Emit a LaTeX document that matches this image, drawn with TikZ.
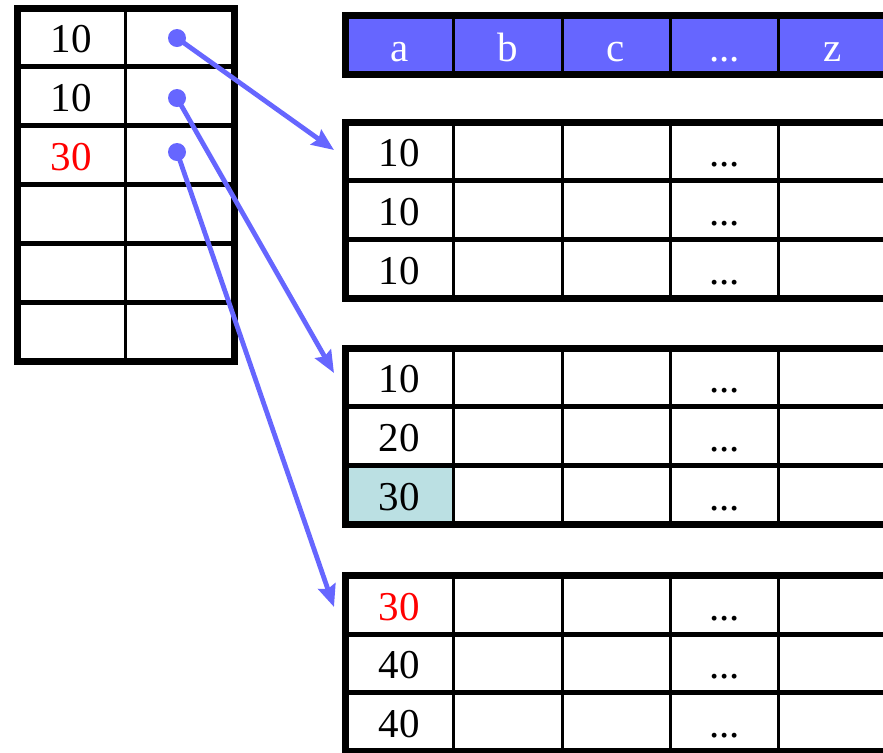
\documentclass[tikz,border=0pt]{standalone}
\usepackage{fontspec}
\setmainfont{Liberation Serif}
\usetikzlibrary{arrows.meta}
\definecolor{ptrblue}{HTML}{6666FF}
\definecolor{hitcell}{HTML}{BBE0E3}
\tikzset{
	txt/.style={anchor=base, inner sep=0pt, font=\fontsize{20.5}{24}\selectfont},
	hdtxt/.style={txt, text=white},
	dot/.style={circle, fill=ptrblue, inner sep=0pt, minimum size=9pt},
	ptr/.style={draw=ptrblue, line width=2.4pt, -{Stealth[length=11pt,width=9pt,inset=1.5pt]}},
	frame/.style={line width=3.5pt},
	hline/.style={line width=2.5pt},
	vline/.style={line width=1.5pt}
}
\begin{document}
\begin{tikzpicture}[x=0.5pt,y=-0.5pt]
	\useasboundingbox (0,0) rectangle (883,752);
	\clip (0,0) rectangle (883,752);
	% index table
	\draw[hline] (17,66.8) -- (234,66.8);
	\draw[hline] (17,125.6) -- (234,125.6);
	\draw[hline] (17,184.4) -- (234,184.4);
	\draw[hline] (17,243.2) -- (234,243.2);
	\draw[hline] (17,302) -- (234,302);
	\draw[vline] (125,8) -- (125,361);
	\draw[frame] (17,8) rectangle (234,361);
	\node[txt] (k1) at (71,52.4) {10};
	\node[txt] (k2) at (71,111) {10};
	\node[txt, text=red] (k3) at (71,170) {30};
	\node[dot] (p1) at (177,38) {};
	\node[dot] (p2) at (177,98) {};
	\node[dot] (p3) at (177,152) {};
	% header
	\fill[ptrblue] (345,15.5) rectangle (895,74.5);
	\foreach \x in {453.5,562,670.5,778.5}
		\draw[vline] (\x,15.5) -- (\x,74.5);
	\draw[frame] (345,15.5) rectangle (895,74.5);
	\node[hdtxt] (hA) at (399.25,61) {a};
	\node[hdtxt] (hB) at (508,61) {b};
	\node[hdtxt] (hC) at (616,61) {c};
	\node[hdtxt] (hDots) at (724.75,61) {...};
	\node[hdtxt] (hZ) at (833,61) {z};
	% data blocks
	\fill[hitcell] (345,466) rectangle (453.5,524);
	\foreach \t in {122,348,575.5} {
		\draw[hline] (345,{\t+58.7}) -- (895,{\t+58.7});
		\draw[hline] (345,{\t+117.4}) -- (895,{\t+117.4});
		\foreach \x in {453.5,562,670.5,778.5}
			\draw[vline] (\x,\t) -- (\x,{\t+176});
		\draw[frame] (345,\t) rectangle (895,{\t+176});
	}
	\node[txt] (a1) at (399.25,166) {10};
	\node[txt] (a2) at (399.25,225) {10};
	\node[txt] (a3) at (399.25,284) {10};
	\node[txt] (a4) at (399.25,392) {10};
	\node[txt] (a5) at (399.25,451) {20};
	\node[txt] (a6) at (399.25,510) {30};
	\node[txt, text=red] (a7) at (399.25,620) {30};
	\node[txt] (a8) at (399.25,678.5) {40};
	\node[txt] (a9) at (399.25,737) {40};
	\node[txt] (e1) at (724.75,166) {...};
	\node[txt] (e2) at (724.75,225) {...};
	\node[txt] (e3) at (724.75,284) {...};
	\node[txt] (e4) at (724.75,392) {...};
	\node[txt] (e5) at (724.75,451) {...};
	\node[txt] (e6) at (724.75,510) {...};
	\node[txt] (e7) at (724.75,620) {...};
	\node[txt] (e8) at (724.75,678.5) {...};
	\node[txt] (e9) at (724.75,737) {...};
	% pointers
	\coordinate (t1) at (334,150);
	\coordinate (t2) at (334,373);
	\coordinate (t3) at (334,607);
	\draw[ptr] (p1.center) -- (t1);
	\draw[ptr] (p2.center) -- (t2);
	\draw[ptr] (p3.center) -- (t3);
\end{tikzpicture}
\end{document}
